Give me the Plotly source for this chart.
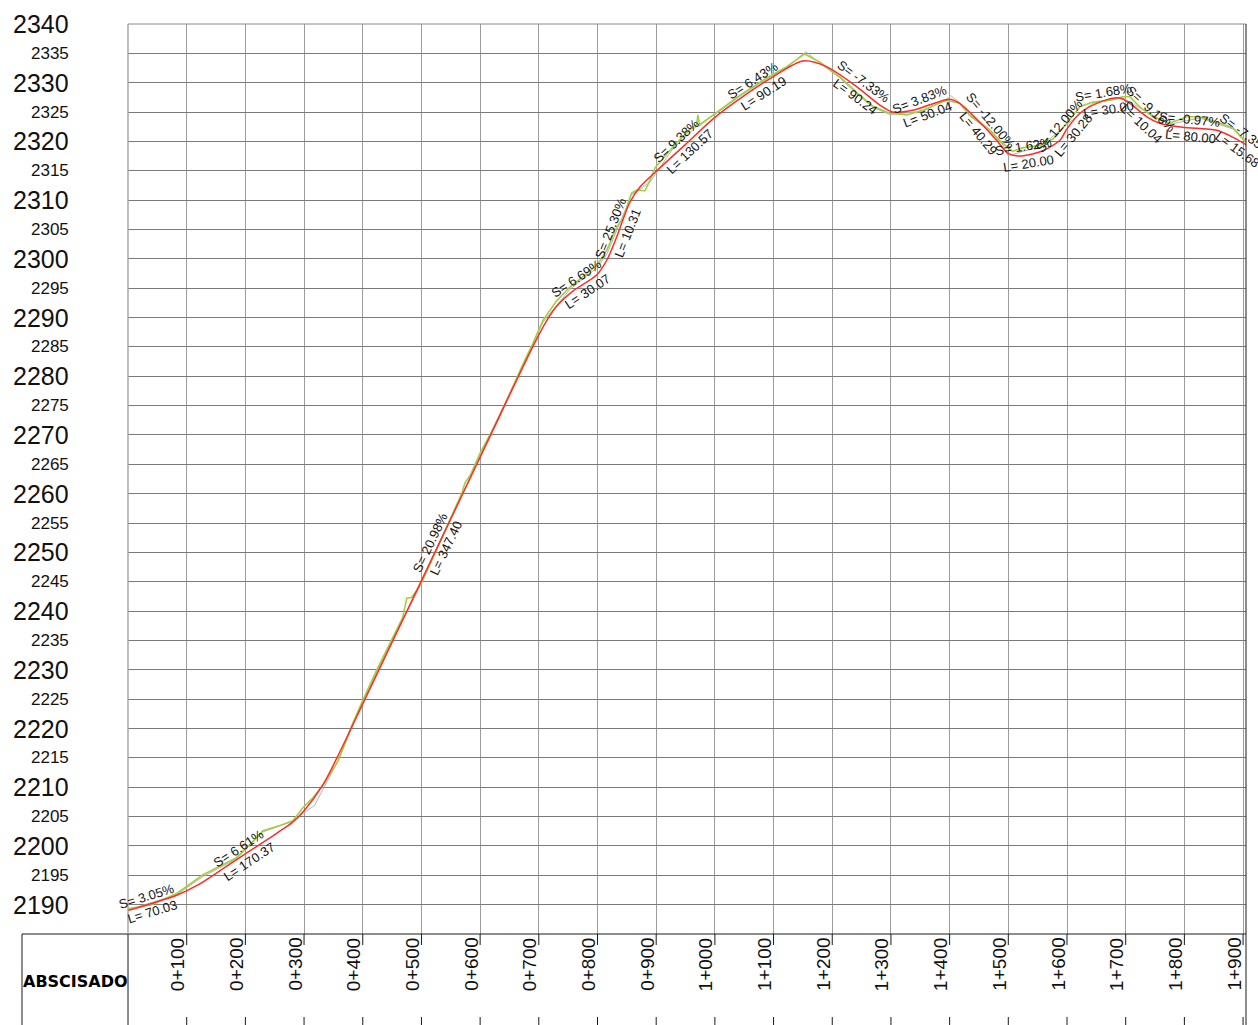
import numpy as np
import plotly.graph_objects as go

# ---------------- data ----------------
# design grade line (rasante): station (m), elevation (m)
red_st = [0, 40, 83, 120, 160, 196, 254, 280, 300, 332, 356, 400, 500, 600, 690, 713, 731,
          758, 799, 816, 833, 855, 872, 901, 950, 1000, 1050, 1099, 1150, 1191, 1242, 1281, 1303,
          1337, 1400, 1417, 1451, 1480, 1499, 1520, 1559, 1588, 1599, 1622, 1656, 1690, 1707,
          1736, 1758, 1797, 1855, 1883, 1906]
red_el = [2189.0, 2190.2, 2191.6, 2193.4, 2196.0, 2198.4, 2202.2, 2204.0, 2206.0, 2210.4, 2215.0,
          2224.2, 2245.2, 2266.2, 2285.1, 2289.4, 2292.0, 2294.5, 2297.3, 2299.8, 2303.8,
          2309.6, 2312.2, 2315.0, 2319.5, 2324.1, 2327.8, 2331.0, 2333.7, 2332.7, 2329.3, 2326.2,
          2325.0, 2325.3, 2327.2, 2326.5, 2323.3, 2320.2, 2318.0, 2317.5, 2318.4, 2320.2, 2322.0,
          2324.8, 2326.7, 2327.4, 2326.5, 2324.2, 2323.1, 2322.4, 2321.9, 2320.7, 2319.4]

# terrain line (green)
green_st = [0, 40, 83, 100, 128, 148, 185, 219, 230, 259, 281, 298, 315, 332, 358, 383, 400, 426,
            446, 468, 475, 483, 492, 500, 530, 569, 574, 583, 600, 630, 676, 690, 707, 730, 753,
            775, 799, 816, 833, 843, 858, 867, 881, 889, 898, 928, 957, 969, 971, 974, 1003, 1043,
            1088, 1122, 1153, 1179, 1213, 1242, 1269, 1298, 1327, 1354, 1394, 1417, 1434, 1468,
            1490, 1507, 1524, 1553, 1576, 1599, 1622, 1644, 1673, 1695, 1707, 1724, 1746, 1775,
            1804, 1826, 1855, 1883, 1905]
green_el = [2189.3, 2190.0, 2191.9, 2193.1, 2195.1, 2196.1, 2198.0, 2201.4, 2202.6, 2203.5, 2204.3,
            2206.5, 2208.2, 2210.3, 2214.5, 2220.9, 2224.8, 2230.4, 2234.5, 2238.9, 2242.2, 2242.3,
            2243.5, 2244.9, 2251.5, 2260.1, 2261.8, 2263.1, 2266.9, 2272.5, 2282.7, 2285.6, 2289.5,
            2292.8, 2295.2, 2296.9, 2298.9, 2301.5, 2305.5, 2306.8, 2311.2, 2311.7, 2311.6, 2313.3,
            2315.5, 2319.0, 2322.0, 2322.8, 2324.5, 2322.8, 2325.0, 2327.9, 2330.8, 2332.7, 2334.9,
            2333.5, 2331.0, 2328.3, 2326.0, 2324.8, 2324.5, 2325.3, 2327.0, 2326.5, 2324.5, 2322.0,
            2319.7, 2318.3, 2318.9, 2319.3, 2320.4, 2323.0, 2325.9, 2326.7, 2327.0, 2327.6, 2327.6,
            2325.9, 2324.2, 2323.1, 2324.2, 2324.2, 2323.3, 2322.3, 2319.9]

# secondary terrain line (gray)
gray_st = [0, 83, 128, 185, 230, 281, 298, 318, 332, 358, 400, 446, 500, 569, 600, 676, 707, 753,
           799, 816, 833, 858, 889, 928, 969, 1003, 1043, 1088, 1122, 1155, 1179, 1213, 1242, 1269,
           1298, 1354, 1394, 1402, 1417, 1434, 1468, 1490, 1500, 1524, 1553, 1599, 1644, 1695,
           1724, 1775, 1826, 1883, 1905]
gray_el = [2189.1, 2191.7, 2194.8, 2197.8, 2202.4, 2204.2, 2205.5, 2206.9, 2209.6, 2214.5, 2224.6,
           2234.2, 2244.7, 2259.8, 2266.6, 2282.5, 2289.2, 2294.8, 2298.5, 2300.8, 2305.0, 2310.9,
           2313.0, 2318.7, 2322.6, 2324.8, 2327.7, 2330.6, 2332.5, 2335.3, 2333.3, 2330.8, 2328.1,
           2325.8, 2324.6, 2325.1, 2327.2, 2327.8, 2326.6, 2324.3, 2321.8, 2319.5, 2317.5, 2318.3,
           2319.0, 2322.8, 2326.5, 2327.4, 2325.7, 2322.9, 2324.0, 2322.1, 2319.7]

# grade labels: station of label, slope (%), vertical curve length (m)
lab_st = [35, 196, 528, 772, 836, 945, 1072, 1245, 1354, 1458, 1528, 1597, 1665, 1734, 1809, 1896]
lab_slope = [3.05, 6.61, 20.98, 6.69, 25.30, 9.38, 6.43, -7.33, 3.83, -12.00, 1.62, 12.00, 1.68,
             -9.16, -0.97, -7.35]
lab_len = [70.03, 170.37, 347.40, 30.07, 10.31, 130.57, 90.19, 90.24, 50.04, 40.29, 20.00, 30.28,
           30.00, 10.04, 80.00, 15.68]

station_ticks = list(range(100, 2000, 100))
elev_ticks = list(range(2190, 2345, 5))

# ---------------- layout geometry ----------------
W, H = 1258, 1025
ML, MR, MT, MB = 128, 12, 24, 91
X0, X1 = 0, 1905
Y0, Y1 = 2185, 2340
PW, PH = W - ML - MR, H - MT - MB
kx = PW / (X1 - X0)
ky = PH / (Y1 - Y0)

FONT = "Liberation Sans, Arial, sans-serif"

fig = go.Figure()
fig.add_trace(go.Scatter(x=gray_st, y=gray_el, mode="lines",
                         line=dict(color="#b4b4b4", width=1), hoverinfo="skip"))
fig.add_trace(go.Scatter(x=green_st, y=green_el, mode="lines",
                         line=dict(color="#a2cf3c", width=1.6), hoverinfo="skip"))
fig.add_trace(go.Scatter(x=red_st, y=red_el, mode="lines",
                         line=dict(color="#ff2b2b", width=1.5, shape="spline", smoothing=0.8),
                         hoverinfo="skip"))

ann = []
# grade labels
d = 8.5
for s, sl, ln in zip(lab_st, lab_slope, lab_len):
    e = float(np.interp(s, red_st, red_el))
    th = np.arctan(sl / 100.0 * ky / kx)
    deg = np.degrees(th)
    nx, ny = -np.sin(th) * d, np.cos(th) * d
    ann.append(dict(x=s, y=e, xref="x", yref="y", text=f"S= {sl:.2f}%", showarrow=False,
                    textangle=-deg, xanchor="center", yanchor="middle",
                    xshift=nx, yshift=ny, font=dict(family=FONT, size=13, color="#151515")))
    ann.append(dict(x=s, y=e, xref="x", yref="y", text=f"L= {ln:.2f}", showarrow=False,
                    textangle=-deg, xanchor="center", yanchor="middle",
                    xshift=-nx + 2 * np.cos(th), yshift=-ny + 2 * np.sin(th),
                    font=dict(family=FONT, size=13, color="#151515")))

# elevation labels
for v in elev_ticks:
    big = (v % 10 == 0)
    ann.append(dict(x=0, y=v, xref="paper", yref="y", text=str(v), showarrow=False,
                    xanchor="right", yanchor="middle", xshift=-57,
                    font=dict(family=FONT, size=25 if big else 17, color="#111")))

# station labels
for s in station_ticks:
    ann.append(dict(x=s, y=0, xref="x", yref="paper", text=f"{s // 1000}+{s % 1000:03d}",
                    showarrow=False, textangle=-90, xanchor="center", yanchor="top",
                    xshift=-9, yshift=-2, font=dict(family=FONT, size=19, color="#111")))

ann.append(dict(x=(75 - ML) / PW, y=-(981 - (H - MB)) / PH, xref="paper", yref="paper",
                text="<b>ABSCISADO</b>", showarrow=False, xanchor="center", yanchor="middle",
                font=dict(family="DejaVu Sans, sans-serif", size=16, color="#000")))

# frame / table lines
pxx = lambda px: (px - ML) / PW
pyy = lambda py: ((H - MB) - py) / PH
shapes = []
black = dict(color="#1a1a1a", width=1)
grayl = dict(color="#8a8a8a", width=1)
shapes.append(dict(type="line", xref="paper", yref="paper", x0=pxx(22), x1=1, y0=0, y1=0, line=black))
shapes.append(dict(type="line", xref="paper", yref="paper", x0=pxx(22), x1=pxx(22), y0=0, y1=pyy(1030), line=black))
shapes.append(dict(type="line", xref="paper", yref="paper", x0=0, x1=0, y0=0, y1=pyy(1030), line=black))
shapes.append(dict(type="line", xref="paper", yref="paper", x0=0, x1=0, y0=0, y1=1, line=dict(color="#9c9c9c", width=1.3)))
shapes.append(dict(type="line", xref="paper", yref="paper", x0=0, x1=1, y0=1, y1=1, line=grayl))
shapes.append(dict(type="line", xref="paper", yref="paper", x0=1, x1=1, y0=1, y1=pyy(1030), line=black))
for s in station_ticks:
    shapes.append(dict(type="line", xref="x", yref="paper", x0=s, x1=s, y0=0, y1=pyy(945), line=black))
    shapes.append(dict(type="line", xref="x", yref="paper", x0=s, x1=s, y0=pyy(1017), y1=pyy(1030), line=black))

fig.update_layout(
    width=W, height=H,
    margin=dict(l=ML, r=MR, t=MT, b=MB, pad=0),
    paper_bgcolor="white", plot_bgcolor="white",
    showlegend=False,
    xaxis=dict(range=[X0, X1], tick0=0, dtick=100, showgrid=True, gridcolor="#9c9c9c",
               gridwidth=1.3, showticklabels=False, ticks="", zeroline=False, showline=False,
               fixedrange=True),
    yaxis=dict(range=[Y0, Y1], tick0=Y0, dtick=5, showgrid=True, gridcolor="#7a7a7a",
               gridwidth=1, showticklabels=False, ticks="", zeroline=False, showline=False,
               fixedrange=True),
    annotations=ann,
    shapes=shapes,
)

fig.write_html("out.html", config={"displayModeBar": False},
               post_script="document.body.style.margin='0';document.body.style.overflow='hidden';")
